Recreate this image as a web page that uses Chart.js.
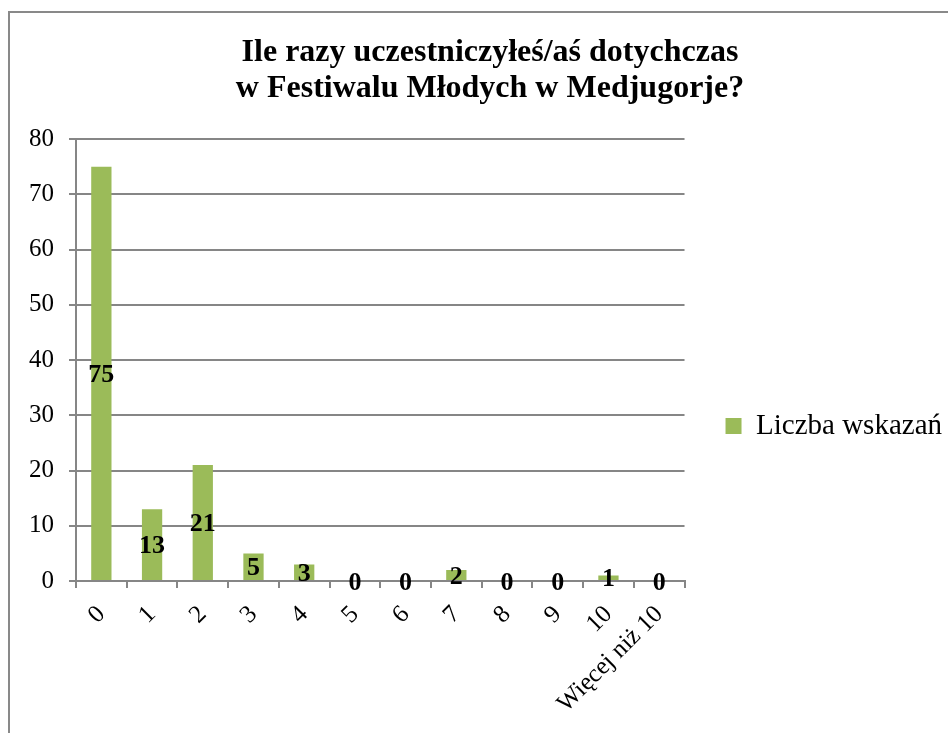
<!DOCTYPE html>
<html>
<head>
<meta charset="utf-8">
<script src="https://cdn.jsdelivr.net/npm/chart.js@4.4.1/dist/chart.umd.min.js"></script>
<style>
  html, body { margin: 0; padding: 0; overflow: hidden; background: #fff; }
  #wrap { position: relative; width: 948px; height: 733px; overflow: hidden; }
  #frame { position: absolute; left: 8px; top: 11px; width: 1000px; height: 1000px; border: 2px solid #898989; }
  canvas { position: absolute; left: 0; top: 0; }
</style>
</head>
<body>
<div id="wrap">
  <div id="frame"></div>
  <canvas id="chart" width="948" height="852"></canvas>
</div>
<script>
const categories = ["0", "1", "2", "3", "4", "5", "6", "7", "8", "9", "10", "Więcej niż 10"];
const counts = [75, 13, 21, 5, 3, 0, 0, 2, 0, 0, 1, 0];
const seriesName = "Liczba wskazań";
const titleLines = ["Ile razy uczestniczyłeś/aś dotychczas", "w Festiwalu Młodych w Medjugorje?"];

const serif = "'Liberation Serif', 'Times New Roman', serif";
const gridGray = "#868686";

// labels in the middle of each bar
const barLabels = {
  id: "barLabels",
  afterDatasetsDraw(chart) {
    const ctx = chart.ctx;
    const meta = chart.getDatasetMeta(0);
    ctx.save();
    ctx.font = "bold 26px " + serif;
    ctx.fillStyle = "#000";
    ctx.textAlign = "center";
    ctx.textBaseline = "middle";
    meta.data.forEach((bar, i) => {
      const y = (bar.y + bar.base) / 2;
      ctx.fillText(String(counts[i]), bar.x, y + 2);
    });
    ctx.restore();
  }
};

const ctx = document.getElementById("chart").getContext("2d");
const chart = new Chart(ctx, {
  type: "bar",
  data: {
    labels: categories,
    datasets: [{
      label: seriesName,
      data: counts,
      backgroundColor: "#9BBB59",
      borderWidth: 0,
      barPercentage: 0.4,
      categoryPercentage: 1.0
    }]
  },
  options: {
    responsive: false,
    animation: false,
    layout: { padding: { left: 28, right: -4, top: 0, bottom: 0 } },
    plugins: {
      title: {
        display: true,
        text: titleLines,
        color: "#000",
        font: { family: serif, size: 32, weight: "bold", lineHeight: 1.144 },
        padding: { top: 34, bottom: 32 }
      },
      legend: {
        position: "right",
        maxWidth: 400,
        labels: {
          boxWidth: 16,
          boxHeight: 16,
          padding: 41,
          color: "#000",
          font: { family: serif, size: 29 }
        }
      },
      tooltip: { enabled: false }
    },
    scales: {
      x: {
        grid: {
          drawOnChartArea: false,
          drawTicks: true,
          tickLength: 7,
          color: gridGray,
          lineWidth: 2
        },
        border: { color: gridGray, width: 2 },
        ticks: {
          color: "#000",
          font: { family: serif, size: 25 },
          maxRotation: 45,
          minRotation: 45,
          padding: 12,
          autoSkip: false
        },
        afterFit(scale) { scale.height = 852 - 581; }
      },
      y: {
        min: 0,
        max: 80,
        grid: { color: gridGray, lineWidth: 2, tickLength: 7 },
        border: { color: gridGray, width: 2 },
        ticks: {
          stepSize: 10,
          color: "#000",
          font: { family: serif, size: 25 },
          padding: 15
        },
        afterFit(scale) { scale.width = 48; }
      }
    }
  },
  plugins: [barLabels]
});
</script>
</body>
</html>
